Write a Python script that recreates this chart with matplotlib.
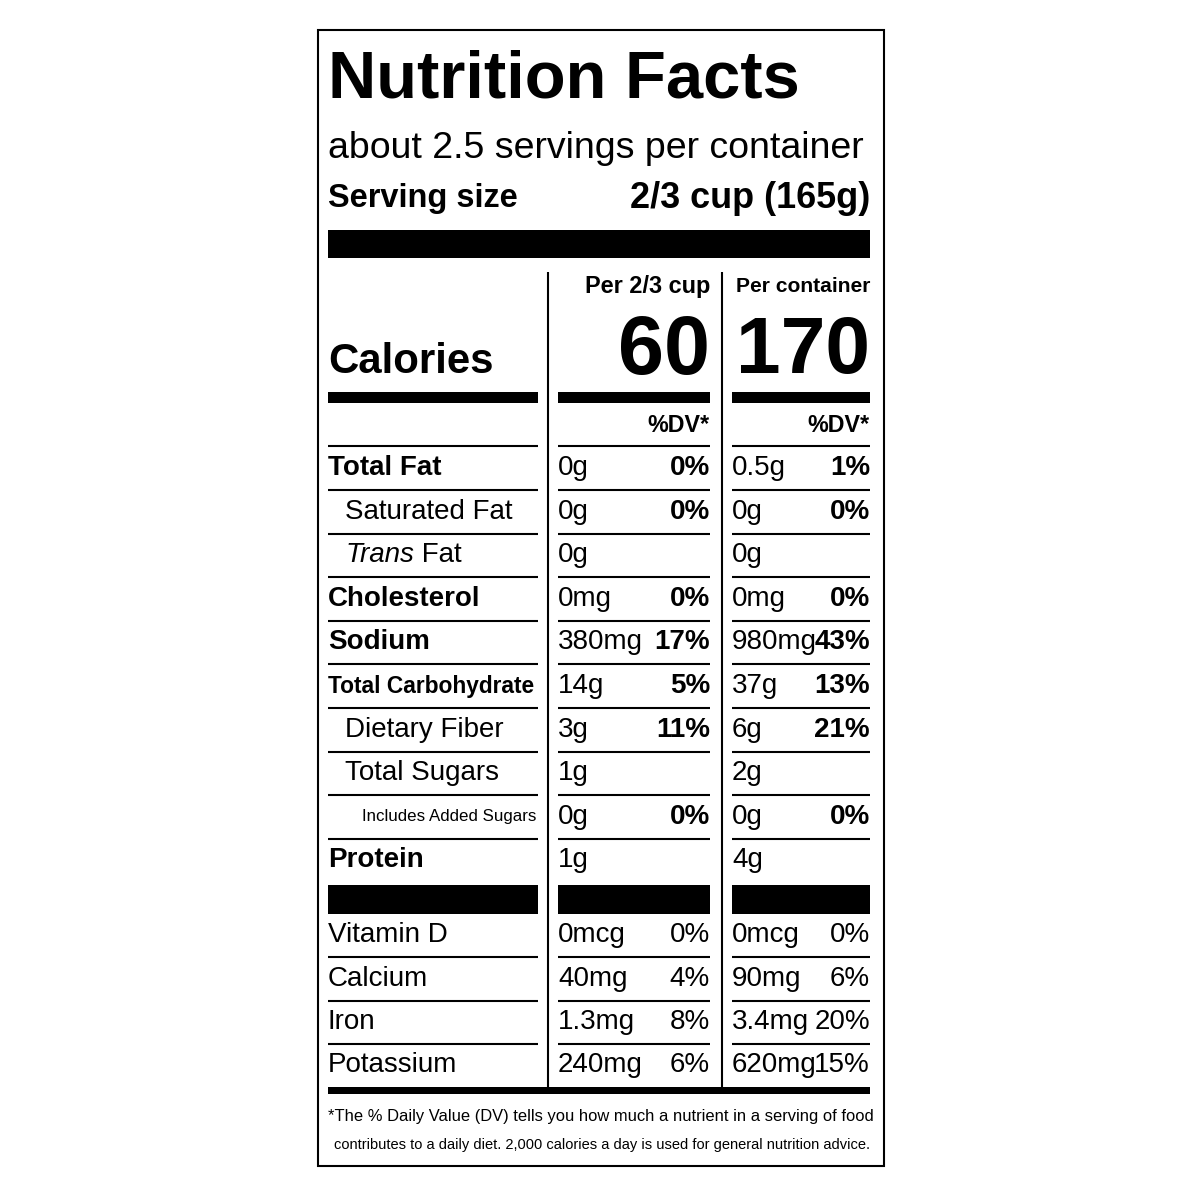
import matplotlib.pyplot as plt
from matplotlib.patches import Rectangle

plt.rcParams['font.family'] = ['Liberation Sans', 'DejaVu Sans']

#---    Data
servings_text = 'about 2.5 servings per container'
serving_size = '2/3 cup (165g)'
col_heads = ['Per 2/3 cup', 'Per container']
calories = ['60', '170']

nutrients = ['Total Fat', 'Saturated Fat', 'Trans Fat', 'Cholesterol', 'Sodium',
             'Total Carbohydrate', 'Dietary Fiber', 'Total Sugars',
             'Includes Added Sugars', 'Protein']
indent = [0, 1, 1, 0, 0, 0, 1, 1, 2, 0]
bold = [True, False, False, True, True, True, False, False, False, True]
amt_serv = ['0g', '0g', '0g', '0mg', '380mg', '14g', '3g', '1g', '0g', '1g']
dv_serv = ['0%', '0%', '', '0%', '17%', '5%', '11%', '', '0%', '']
amt_cont = ['0.5g', '0g', '0g', '0mg', '980mg', '37g', '6g', '2g', '0g', '4g']
dv_cont = ['1%', '0%', '', '0%', '43%', '13%', '21%', '', '0%', '']

vitamins = ['Vitamin D', 'Calcium', 'Iron', 'Potassium']
vit_serv = ['0mcg', '40mg', '1.3mg', '240mg']
vit_dv_serv = ['0%', '4%', '8%', '6%']
vit_cont = ['0mcg', '90mg', '3.4mg', '620mg']
vit_dv_cont = ['0%', '6%', '20%', '15%']

footnote = ['*The % Daily Value (DV) tells you how much a nutrient in a serving of food',
            'contributes to a daily diet. 2,000 calories a day is used for general nutrition advice.']

fig = plt.figure(figsize=(12, 12), dpi=100)
ax = fig.add_axes([0, 0, 1, 1])
ax.set_xlim(0, 1200)
ax.set_ylim(1200, 0)
ax.axis('off')
renderer = fig.canvas.get_renderer()

def txt(x, y, s, size, width=None, **kw):
    # shrink the font until the text fits in the given width (pixels)
    t = ax.text(x, y, s, fontsize=size, va='center', **kw)
    if width:
        w = t.get_window_extent(renderer).width
        if w > width:
            t.set_fontsize(size * width / w)
    return t

def bar(x0, x1, y0, y1):
    ax.add_patch(Rectangle((x0, y0), x1 - x0, y1 - y0, color='black', lw=0))

# border
ax.add_patch(Rectangle((318, 30), 566, 1136, fill=False, ec='black', lw=1.5))

L, R = 328, 870
segs = [(328, 538), (558, 710), (732, 870)]

txt(L, 80, 'Nutrition Facts', 67, 472, weight='bold', ha='left')
txt(L, 149, servings_text, 30, 535, ha='left')
txt(L, 198, 'Serving size', 28, 190, weight='bold', ha='left')
txt(R, 198, serving_size, 28, 240, weight='bold', ha='right')
bar(L, R, 230, 258)

# column separators
ax.vlines([548, 722], 272, 1088, color='black', lw=1.5)

txt(710, 287, col_heads[0], 22, 125, weight='bold', ha='right')
txt(870, 287, col_heads[1], 22, 134, weight='bold', ha='right')
txt(710, 352, calories[0], 76, 92, weight='bold', ha='right')
txt(870, 352, calories[1], 76, 134, weight='bold', ha='right')
txt(L, 362, 'Calories', 54, 166, weight='bold', ha='left')
for x0, x1 in segs:
    bar(x0, x1, 392, 403)
    ax.hlines(446, x0, x1, color='black', lw=1.5)
txt(710, 426, '%DV*', 20, 62, weight='bold', ha='right')
txt(870, 426, '%DV*', 20, 62, weight='bold', ha='right')

row_h = 43.6
y = 468
for i, name in enumerate(nutrients):
    w = 'bold' if bold[i] else 'normal'
    x = L + [0, 17, 34][indent[i]]
    if name == 'Trans Fat':
        t = txt(x, y, 'Trans', 20, style='italic', ha='left')
        tw = t.get_window_extent(renderer).width
        txt(x + tw, y, ' Fat', 20, ha='left')
    else:
        txt(x, y, name, 20, 535 - x, weight=w, ha='left')
    txt(558, y, amt_serv[i], 20, ha='left')
    txt(710, y, dv_serv[i], 20, weight='bold', ha='right')
    txt(732, y, amt_cont[i], 20, ha='left')
    txt(870, y, dv_cont[i], 20, weight='bold', ha='right')
    if i < len(nutrients) - 1:
        for x0, x1 in segs:
            ax.hlines(y + 22, x0, x1, color='black', lw=1.5)
    y += row_h

for x0, x1 in segs:
    bar(x0, x1, 885, 914)

y = 935
for i, name in enumerate(vitamins):
    txt(L, y, name, 20, ha='left')
    txt(558, y, vit_serv[i], 20, ha='left')
    txt(710, y, vit_dv_serv[i], 20, ha='right')
    txt(732, y, vit_cont[i], 20, ha='left')
    txt(870, y, vit_dv_cont[i], 20, ha='right')
    if i < len(vitamins) - 1:
        for x0, x1 in segs:
            ax.hlines(y + 22, x0, x1, color='black', lw=1.5)
    y += 43.5

bar(L, R, 1087, 1094)
txt(L, 1117, footnote[0], 17, 542, ha='left')
txt(R, 1145, footnote[1], 17, 535, ha='right')

plt.savefig('out.png', dpi=100)
